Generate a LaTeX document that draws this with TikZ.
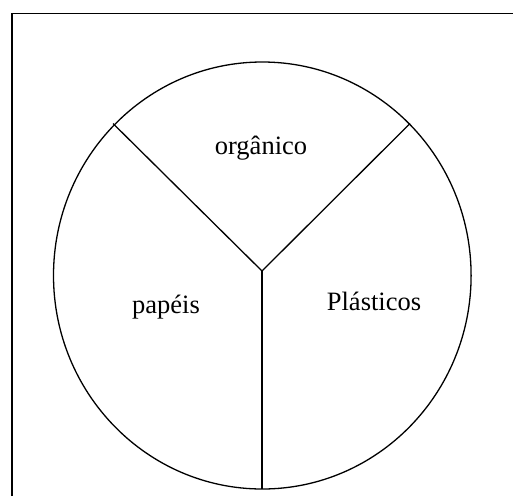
\documentclass[tikz,border=0pt]{standalone}
\usepackage{fontspec}
\setmainfont{Liberation Serif}
\usetikzlibrary{positioning}
\tikzset{
  setor/.style={line width=1.3pt},
  rotulo/.style={font=\fontsize{26.5}{30}\selectfont, anchor=base, inner sep=0pt}
}

\begin{document}
\begin{tikzpicture}[x=1pt, y=-1pt]
  \useasboundingbox (0,0) rectangle (513,496);
  % moldura (so o lado de cima e o da esquerda)
  \draw[line width=1.8pt] (12,496) -- (12,13.5) -- (513,13.5);
  % o circulo dividido em tres
  \draw[setor] (262.3,275.5) ellipse [x radius=208.8, y radius=213.5];
  \coordinate (centro) at (262,271);
  \coordinate (cantoE) at (113,123.5);
  \coordinate (cantoD) at (410,123.5);
  \coordinate (base) at (262,489);
  \draw[setor] (cantoE) -- (centro) -- (cantoD);
  \draw[setor] (centro) -- (base);
  \node[rotulo] (organico) at (261,154) {orgânico};
  \node[rotulo] (papeis) at (166,313) {papéis};
  \node[rotulo] (plasticos) at (374,310) {Plásticos};
\end{tikzpicture}
\end{document}
